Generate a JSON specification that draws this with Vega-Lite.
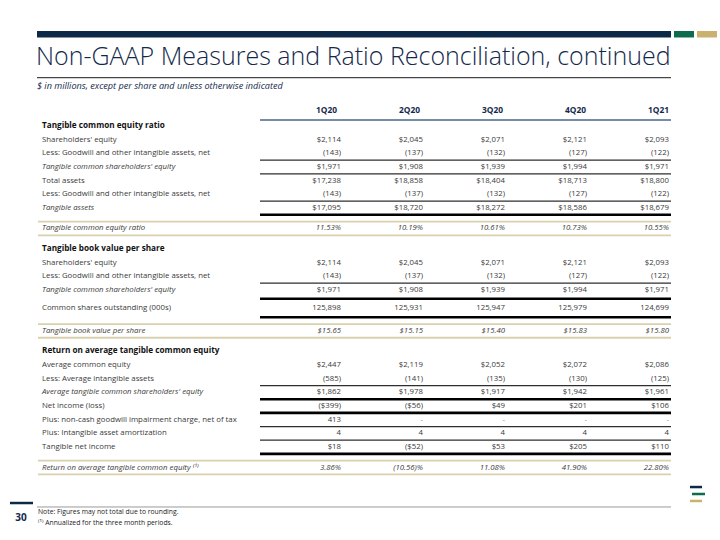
{
  "$schema": "https://vega.github.io/schema/vega-lite/v6.json",
  "width": 720,
  "height": 540,
  "autosize": {"type": "fit", "contains": "padding"},
  "padding": 0,
  "background": "white",
  "config": {"view": {"stroke": null}, "text": {"font": "Open Sans"}},
  "resolve": {"scale": {"x": "independent"}},
  "datasets": {
    "cells": [
      {"line": 0, "kind": "section", "label": "Tangible common equity ratio"},
      {"line": 1, "kind": "item", "label": "Shareholders' equity", "1Q20": "$2,114", "2Q20": "$2,045", "3Q20": "$2,071", "4Q20": "$2,121", "1Q21": "$2,093"},
      {"line": 2, "kind": "item", "label": "Less: Goodwill and other intangible assets, net", "1Q20": "(143)", "2Q20": "(137)", "3Q20": "(132)", "4Q20": "(127)", "1Q21": "(122)"},
      {"line": 3, "kind": "subtotal", "label": "Tangible common shareholders' equity", "1Q20": "$1,971", "2Q20": "$1,908", "3Q20": "$1,939", "4Q20": "$1,994", "1Q21": "$1,971"},
      {"line": 4, "kind": "item", "label": "Total assets", "1Q20": "$17,238", "2Q20": "$18,858", "3Q20": "$18,404", "4Q20": "$18,713", "1Q21": "$18,800"},
      {"line": 5, "kind": "item", "label": "Less: Goodwill and other intangible assets, net", "1Q20": "(143)", "2Q20": "(137)", "3Q20": "(132)", "4Q20": "(127)", "1Q21": "(122)"},
      {"line": 6, "kind": "subtotal", "label": "Tangible assets", "1Q20": "$17,095", "2Q20": "$18,720", "3Q20": "$18,272", "4Q20": "$18,586", "1Q21": "$18,679"},
      {"line": 7.5, "kind": "ratio", "label": "Tangible common equity ratio", "1Q20": "11.53%", "2Q20": "10.19%", "3Q20": "10.61%", "4Q20": "10.73%", "1Q21": "10.55%"},
      {"line": 9, "kind": "section", "label": "Tangible book value per share"},
      {"line": 10, "kind": "item", "label": "Shareholders' equity", "1Q20": "$2,114", "2Q20": "$2,045", "3Q20": "$2,071", "4Q20": "$2,121", "1Q21": "$2,093"},
      {"line": 11, "kind": "item", "label": "Less: Goodwill and other intangible assets, net", "1Q20": "(143)", "2Q20": "(137)", "3Q20": "(132)", "4Q20": "(127)", "1Q21": "(122)"},
      {"line": 12, "kind": "subtotal", "label": "Tangible common shareholders' equity", "1Q20": "$1,971", "2Q20": "$1,908", "3Q20": "$1,939", "4Q20": "$1,994", "1Q21": "$1,971"},
      {"line": 13.3, "kind": "item", "label": "Common shares outstanding (000s)", "1Q20": "125,898", "2Q20": "125,931", "3Q20": "125,947", "4Q20": "125,979", "1Q21": "124,699"},
      {"line": 15, "kind": "ratio", "label": "Tangible book value per share", "1Q20": "$15.65", "2Q20": "$15.15", "3Q20": "$15.40", "4Q20": "$15.83", "1Q21": "$15.80"},
      {"line": 16.5, "kind": "section", "label": "Return on average tangible common equity"},
      {"line": 17.5, "kind": "item", "label": "Average common equity", "1Q20": "$2,447", "2Q20": "$2,119", "3Q20": "$2,052", "4Q20": "$2,072", "1Q21": "$2,086"},
      {"line": 18.5, "kind": "item", "label": "Less: Average intangible assets", "1Q20": "(585)", "2Q20": "(141)", "3Q20": "(135)", "4Q20": "(130)", "1Q21": "(125)"},
      {"line": 19.5, "kind": "subtotal", "label": "Average tangible common shareholders' equity", "1Q20": "$1,862", "2Q20": "$1,978", "3Q20": "$1,917", "4Q20": "$1,942", "1Q21": "$1,961"},
      {"line": 20.5, "kind": "item", "label": "Net income (loss)", "1Q20": "($399)", "2Q20": "($56)", "3Q20": "$49", "4Q20": "$201", "1Q21": "$106"},
      {"line": 21.5, "kind": "item", "label": "Plus: non-cash goodwill impairment charge, net of tax", "1Q20": "413", "2Q20": "-", "3Q20": "-", "4Q20": "-", "1Q21": "-"},
      {"line": 22.5, "kind": "item", "label": "Plus: Intangible asset amortization", "1Q20": "4", "2Q20": "4", "3Q20": "4", "4Q20": "4", "1Q21": "4"},
      {"line": 23.5, "kind": "item", "label": "Tangible net income", "1Q20": "$18", "2Q20": "($52)", "3Q20": "$53", "4Q20": "$205", "1Q21": "$110"},
      {"line": 25, "kind": "ratio", "label": "Return on average tangible common equity ⁽¹⁾", "1Q20": "3.86%", "2Q20": "(10.56)%", "3Q20": "11.08%", "4Q20": "41.90%", "1Q21": "22.80%"}
    ],
    "rules": [
      {"style": "thin", "line": 2.5}, {"style": "thin", "line": 3.5}, {"style": "thin", "line": 5.5},
      {"style": "thin", "line": 11.5}, {"style": "thin", "line": 19}, {"style": "thin", "line": 22}, {"style": "thin", "line": 23},
      {"style": "thick", "line": 6.5}, {"style": "thick", "line": 12.65}, {"style": "thick", "line": 14},
      {"style": "thick", "line": 20}, {"style": "thick", "line": 21}, {"style": "thick", "line": 24},
      {"style": "tan", "line": 7}, {"style": "tan", "line": 8}, {"style": "tan", "line": 14.5},
      {"style": "tan", "line": 15.5}, {"style": "tan", "line": 24.5}, {"style": "tan", "line": 25.5}
    ],
    "quarters": [{"q": "1Q20"}, {"q": "2Q20"}, {"q": "3Q20"}, {"q": "4Q20"}, {"q": "1Q21"}],
    "notes": [
      {"id": "title", "t": "Non-GAAP Measures and Ratio Reconciliation, continued"},
      {"id": "sub", "t": "$ in millions, except per share and unless otherwise indicated"},
      {"id": "page", "t": "30"},
      {"id": "note1", "t": "Note: Figures may not total due to rounding."},
      {"id": "note2", "t": "⁽¹⁾ Annualized for the three month periods."}
    ]
  },
  "layer": [
    {
      "data": {"values": [{"part": "navy"}]},
      "mark": {"type": "rect", "color": "#0c2a47"},
      "encoding": {
        "x": {"datum": 37, "type": "quantitative", "scale": {"domain": [0, 720], "nice": false, "zero": false}, "axis": null},
        "x2": {"datum": 671},
        "y": {"datum": -6.955, "type": "quantitative", "scale": {"domain": [-9.224, 30.307], "reverse": true, "nice": false, "zero": false}, "axis": null},
        "y2": {"datum": -6.479}
      }
    },
    {
      "data": {"values": [{"part": "green"}]},
      "mark": {"type": "rect", "color": "#0d6b50"},
      "encoding": {
        "x": {"datum": 674, "type": "quantitative", "scale": {"domain": [0, 720], "nice": false, "zero": false}, "axis": null},
        "x2": {"datum": 694},
        "y": {"datum": -6.955, "type": "quantitative", "scale": {"domain": [-9.224, 30.307], "reverse": true, "nice": false, "zero": false}, "axis": null},
        "y2": {"datum": -6.479}
      }
    },
    {
      "data": {"values": [{"part": "gold"}]},
      "mark": {"type": "rect", "color": "#c9b26f"},
      "encoding": {
        "x": {"datum": 697, "type": "quantitative", "scale": {"domain": [0, 720], "nice": false, "zero": false}, "axis": null},
        "x2": {"datum": 717},
        "y": {"datum": -6.955, "type": "quantitative", "scale": {"domain": [-9.224, 30.307], "reverse": true, "nice": false, "zero": false}, "axis": null},
        "y2": {"datum": -6.479}
      }
    },
    {
      "data": {"name": "notes"},
      "transform": [{"filter": "datum.id === 'title'"}],
      "mark": {"type": "text", "align": "left", "baseline": "alphabetic", "font": "Open Sans", "fontSize": 25, "fontWeight": 300, "color": "#13294b"},
      "encoding": {
        "x": {"datum": 36, "type": "quantitative", "scale": {"domain": [0, 720], "nice": false, "zero": false}, "axis": null},
        "y": {"datum": -4.5, "type": "quantitative", "scale": {"domain": [-9.224, 30.307], "reverse": true, "nice": false, "zero": false}, "axis": null},
        "text": {"field": "t"}
      }
    },
    {
      "data": {"values": [{"part": "titlerule"}]},
      "mark": {"type": "rule", "color": "#1a1a1a", "strokeWidth": 1},
      "encoding": {
        "x": {"datum": 37, "type": "quantitative", "scale": {"domain": [0, 720], "nice": false, "zero": false}, "axis": null},
        "x2": {"datum": 671},
        "y": {"datum": -3.536, "type": "quantitative", "scale": {"domain": [-9.224, 30.307], "reverse": true, "nice": false, "zero": false}, "axis": null}
      }
    },
    {
      "data": {"name": "notes"},
      "transform": [{"filter": "datum.id === 'sub'"}],
      "mark": {"type": "text", "align": "left", "baseline": "middle", "font": "Open Sans", "fontSize": 9.1, "fontStyle": "italic", "color": "#13294b"},
      "encoding": {
        "x": {"datum": 37, "type": "quantitative", "scale": {"domain": [0, 720], "nice": false, "zero": false}, "axis": null},
        "y": {"datum": -2.93, "type": "quantitative", "scale": {"domain": [-9.224, 30.307], "reverse": true, "nice": false, "zero": false}, "axis": null},
        "text": {"field": "t"}
      }
    },
    {
      "data": {"name": "quarters"},
      "mark": {"type": "text", "align": "right", "baseline": "middle", "font": "Open Sans", "fontSize": 8.4, "fontWeight": "bold", "color": "#13294b"},
      "encoding": {
        "x": {"field": "q", "type": "ordinal", "scale": {"type": "point", "domain": ["1Q20", "2Q20", "3Q20", "4Q20", "1Q21"], "range": [337, 669], "padding": 0}, "axis": null},
        "y": {"datum": -1.17, "type": "quantitative", "scale": {"domain": [-9.224, 30.307], "reverse": true, "nice": false, "zero": false}, "axis": null},
        "text": {"field": "q"}
      }
    },
    {
      "data": {"values": [{"part": "headerrule"}]},
      "mark": {"type": "rule", "color": "#4a6788", "strokeWidth": 1.5},
      "encoding": {
        "x": {"datum": 260, "type": "quantitative", "scale": {"domain": [0, 720], "nice": false, "zero": false}, "axis": null},
        "x2": {"datum": 671},
        "y": {"datum": -0.44, "type": "quantitative", "scale": {"domain": [-9.224, 30.307], "reverse": true, "nice": false, "zero": false}, "axis": null}
      }
    },
    {
      "data": {"name": "rules"},
      "transform": [{"filter": "datum.style === 'tan'"}],
      "mark": {"type": "rule", "color": "#d9d0ae", "strokeWidth": 1.8},
      "encoding": {
        "x": {"datum": 38, "type": "quantitative", "scale": {"domain": [0, 720], "nice": false, "zero": false}, "axis": null},
        "x2": {"datum": 671},
        "y": {"field": "line", "type": "quantitative", "scale": {"domain": [-9.224, 30.307], "reverse": true, "nice": false, "zero": false}, "axis": null}
      }
    },
    {
      "data": {"name": "rules"},
      "transform": [{"filter": "datum.style === 'thin'"}],
      "mark": {"type": "rule", "color": "#2e2e2e", "strokeWidth": 1.3},
      "encoding": {
        "x": {"datum": 260, "type": "quantitative", "scale": {"domain": [0, 720], "nice": false, "zero": false}, "axis": null},
        "x2": {"datum": 671},
        "y": {"field": "line", "type": "quantitative", "scale": {"domain": [-9.224, 30.307], "reverse": true, "nice": false, "zero": false}, "axis": null}
      }
    },
    {
      "data": {"name": "rules"},
      "transform": [{"filter": "datum.style === 'thick'"}],
      "mark": {"type": "rule", "color": "#000000", "strokeWidth": 2.6},
      "encoding": {
        "x": {"datum": 260, "type": "quantitative", "scale": {"domain": [0, 720], "nice": false, "zero": false}, "axis": null},
        "x2": {"datum": 671},
        "y": {"field": "line", "type": "quantitative", "scale": {"domain": [-9.224, 30.307], "reverse": true, "nice": false, "zero": false}, "axis": null}
      }
    },
    {
      "data": {"name": "cells"},
      "transform": [{"filter": "datum.kind === 'section'"}],
      "mark": {"type": "text", "align": "left", "baseline": "middle", "font": "Open Sans", "fontSize": 8.2, "fontWeight": "bold", "color": "#111111"},
      "encoding": {
        "x": {"datum": 42, "type": "quantitative", "scale": {"domain": [0, 720], "nice": false, "zero": false}, "axis": null},
        "y": {"field": "line", "type": "quantitative", "scale": {"domain": [-9.224, 30.307], "reverse": true, "nice": false, "zero": false}, "axis": null},
        "text": {"field": "label"}
      }
    },
    {
      "data": {"name": "cells"},
      "transform": [{"filter": "datum.kind === 'item'"}],
      "mark": {"type": "text", "align": "left", "baseline": "middle", "font": "Open Sans", "fontSize": 7.8, "color": "#3a3a3a"},
      "encoding": {
        "x": {"datum": 42, "type": "quantitative", "scale": {"domain": [0, 720], "nice": false, "zero": false}, "axis": null},
        "y": {"field": "line", "type": "quantitative", "scale": {"domain": [-9.224, 30.307], "reverse": true, "nice": false, "zero": false}, "axis": null},
        "text": {"field": "label"}
      }
    },
    {
      "data": {"name": "cells"},
      "transform": [{"filter": "datum.kind === 'subtotal' || datum.kind === 'ratio'"}],
      "mark": {"type": "text", "align": "left", "baseline": "middle", "font": "Open Sans", "fontSize": 7.8, "fontStyle": "italic", "color": "#3a3a3a"},
      "encoding": {
        "x": {"datum": 42, "type": "quantitative", "scale": {"domain": [0, 720], "nice": false, "zero": false}, "axis": null},
        "y": {"field": "line", "type": "quantitative", "scale": {"domain": [-9.224, 30.307], "reverse": true, "nice": false, "zero": false}, "axis": null},
        "text": {"field": "label"}
      }
    },
    {
      "data": {"name": "cells"},
      "transform": [
        {"filter": "datum.kind === 'item' || datum.kind === 'subtotal'"},
        {"fold": ["1Q20", "2Q20", "3Q20", "4Q20", "1Q21"], "as": ["quarter", "value"]}
      ],
      "mark": {"type": "text", "align": "right", "baseline": "middle", "font": "Open Sans", "fontSize": 7.8},
      "encoding": {
        "x": {"field": "quarter", "type": "ordinal", "scale": {"type": "point", "domain": ["1Q20", "2Q20", "3Q20", "4Q20", "1Q21"], "range": [341, 669], "padding": 0}, "axis": null},
        "y": {"field": "line", "type": "quantitative", "scale": {"domain": [-9.224, 30.307], "reverse": true, "nice": false, "zero": false}, "axis": null},
        "text": {"field": "value"},
        "color": {"condition": {"test": "datum.value === '-'", "value": "#8c8c8c"}, "value": "#3a3a3a"}
      }
    },
    {
      "data": {"name": "cells"},
      "transform": [
        {"filter": "datum.kind === 'ratio'"},
        {"fold": ["1Q20", "2Q20", "3Q20", "4Q20", "1Q21"], "as": ["quarter", "value"]}
      ],
      "mark": {"type": "text", "align": "right", "baseline": "middle", "font": "Open Sans", "fontSize": 7.8, "fontStyle": "italic", "color": "#3a3a3a"},
      "encoding": {
        "x": {"field": "quarter", "type": "ordinal", "scale": {"type": "point", "domain": ["1Q20", "2Q20", "3Q20", "4Q20", "1Q21"], "range": [341, 669], "padding": 0}, "axis": null},
        "y": {"field": "line", "type": "quantitative", "scale": {"domain": [-9.224, 30.307], "reverse": true, "nice": false, "zero": false}, "axis": null},
        "text": {"field": "value"}
      }
    },
    {
      "data": {"values": [{"part": "icon1"}]},
      "mark": {"type": "rule", "color": "#0c2a47", "strokeWidth": 2.5},
      "encoding": {
        "x": {"datum": 690, "type": "quantitative", "scale": {"domain": [0, 720], "nice": false, "zero": false}, "axis": null},
        "x2": {"datum": 702},
        "y": {"datum": 26.43, "type": "quantitative", "scale": {"domain": [-9.224, 30.307], "reverse": true, "nice": false, "zero": false}, "axis": null}
      }
    },
    {
      "data": {"values": [{"part": "icon2"}]},
      "mark": {"type": "rule", "color": "#0d6b50", "strokeWidth": 2.5},
      "encoding": {
        "x": {"datum": 692, "type": "quantitative", "scale": {"domain": [0, 720], "nice": false, "zero": false}, "axis": null},
        "x2": {"datum": 705},
        "y": {"datum": 26.94, "type": "quantitative", "scale": {"domain": [-9.224, 30.307], "reverse": true, "nice": false, "zero": false}, "axis": null}
      }
    },
    {
      "data": {"values": [{"part": "icon3"}]},
      "mark": {"type": "rule", "color": "#c9b26f", "strokeWidth": 2.5},
      "encoding": {
        "x": {"datum": 690, "type": "quantitative", "scale": {"domain": [0, 720], "nice": false, "zero": false}, "axis": null},
        "x2": {"datum": 702},
        "y": {"datum": 27.45, "type": "quantitative", "scale": {"domain": [-9.224, 30.307], "reverse": true, "nice": false, "zero": false}, "axis": null}
      }
    },
    {
      "data": {"values": [{"part": "footrule"}]},
      "mark": {"type": "rule", "color": "#9a9a9a", "strokeWidth": 1},
      "encoding": {
        "x": {"datum": 37, "type": "quantitative", "scale": {"domain": [0, 720], "nice": false, "zero": false}, "axis": null},
        "x2": {"datum": 671},
        "y": {"datum": 27.89, "type": "quantitative", "scale": {"domain": [-9.224, 30.307], "reverse": true, "nice": false, "zero": false}, "axis": null}
      }
    },
    {
      "data": {"values": [{"part": "pagedash"}]},
      "mark": {"type": "rule", "color": "#0c2a47", "strokeWidth": 2.5},
      "encoding": {
        "x": {"datum": 10, "type": "quantitative", "scale": {"domain": [0, 720], "nice": false, "zero": false}, "axis": null},
        "x2": {"datum": 33},
        "y": {"datum": 27.6, "type": "quantitative", "scale": {"domain": [-9.224, 30.307], "reverse": true, "nice": false, "zero": false}, "axis": null}
      }
    },
    {
      "data": {"name": "notes"},
      "transform": [{"filter": "datum.id === 'page'"}],
      "mark": {"type": "text", "align": "center", "baseline": "middle", "font": "Open Sans", "fontSize": 10, "fontWeight": "bold", "color": "#13294b"},
      "encoding": {
        "x": {"datum": 21, "type": "quantitative", "scale": {"domain": [0, 720], "nice": false, "zero": false}, "axis": null},
        "y": {"datum": 28.7, "type": "quantitative", "scale": {"domain": [-9.224, 30.307], "reverse": true, "nice": false, "zero": false}, "axis": null},
        "text": {"field": "t"}
      }
    },
    {
      "data": {"name": "notes"},
      "transform": [{"filter": "datum.id === 'note1'"}],
      "mark": {"type": "text", "align": "left", "baseline": "middle", "font": "Open Sans", "fontSize": 6.8, "color": "#222222"},
      "encoding": {
        "x": {"datum": 38, "type": "quantitative", "scale": {"domain": [0, 720], "nice": false, "zero": false}, "axis": null},
        "y": {"datum": 28.29, "type": "quantitative", "scale": {"domain": [-9.224, 30.307], "reverse": true, "nice": false, "zero": false}, "axis": null},
        "text": {"field": "t"}
      }
    },
    {
      "data": {"name": "notes"},
      "transform": [{"filter": "datum.id === 'note2'"}],
      "mark": {"type": "text", "align": "left", "baseline": "middle", "font": "Open Sans", "fontSize": 6.8, "color": "#222222"},
      "encoding": {
        "x": {"datum": 38, "type": "quantitative", "scale": {"domain": [0, 720], "nice": false, "zero": false}, "axis": null},
        "y": {"datum": 29.03, "type": "quantitative", "scale": {"domain": [-9.224, 30.307], "reverse": true, "nice": false, "zero": false}, "axis": null},
        "text": {"field": "t"}
      }
    }
  ]
}
